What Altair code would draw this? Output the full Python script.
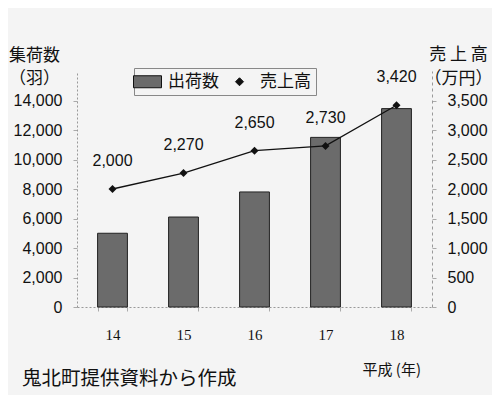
import altair as alt
import pandas as pd

years = ["14", "15", "16", "17", "18"]
shipments = [5000, 6100, 7800, 11500, 13450]
sales = [2000, 2270, 2650, 2730, 3420]
series_names = ["出荷数", "売上高"]
left_ticks = [0, 2000, 4000, 6000, 8000, 10000, 12000, 14000]
right_ticks = [0, 500, 1000, 1500, 2000, 2500, 3000, 3500]

bar_df = pd.DataFrame({"year": years, "value": shipments, "series": series_names[0]})
line_df = pd.DataFrame({"year": years, "value": sales, "series": series_names[1]})

NUM_FONT = "Liberation Sans Narrow, Liberation Sans"
JP_FONT = "Noto Sans CJK JP"

x_enc = alt.X("year:O", sort=years, scale=alt.Scale(paddingInner=0.58, paddingOuter=0.29),
              axis=alt.Axis(title="平成 (年)", labelAngle=0, labelFont="Liberation Serif",
                            labelFontSize=15, labelColor="#111", labelPadding=16,
                            ticks=True, tickBand="extent", tickSize=4, tickColor="#aaa",
                            domainColor="#999", domainDash=[2, 2],
                            titleFont=JP_FONT, titleFontSize=15, titleFontWeight="normal",
                            titleColor="#111", titleAnchor="start", titleX=285, titleY=62,
                            titleAlign="left", titleBaseline="middle"))

color_scale = alt.Scale(domain=series_names, range=["#6b6b6b", "#111111"])
shape_scale = alt.Scale(domain=series_names, range=["M-3.5,-1.5H3.5V1.5H-3.5Z", "diamond"])

legend = alt.Legend(title=None, orient="none", legendX=57, legendY=-3, direction="horizontal",
                    strokeColor="#888", padding=5, labelFont=JP_FONT, labelFontSize=17,
                    labelColor="#111", symbolSize=64, symbolStrokeColor="#111",
                    symbolStrokeWidth=1, labelOffset=12, columnPadding=12)

bars = alt.Chart(bar_df).mark_bar(stroke="#222", strokeWidth=1).encode(
    x=x_enc,
    y=alt.Y("value:Q", scale=alt.Scale(domain=[0, 16000]),
            axis=alt.Axis(values=left_ticks, format=",.0f", title=["集荷数", "（羽）"],
                          titleAngle=0, titleX=-43, titleY=-24, titleAlign="center",
                          titleBaseline="top", titleLineHeight=23, titleFont=JP_FONT,
                          titleFontSize=17, titleFontWeight="normal", titleColor="#111",
                          labelFont=NUM_FONT, labelFontSize=16, labelColor="#111",
                          labelPadding=11, tickSize=4, tickColor="#aaa",
                          domainColor="#999", domainDash=[2, 2], grid=False)),
    color=alt.Color("series:N", scale=color_scale, legend=legend),
)

right_scale = alt.Scale(domain=[0, 4000])

line = alt.Chart(line_df).mark_line(color="#111", strokeWidth=1.3).encode(
    x=x_enc,
    y=alt.Y("value:Q", scale=right_scale,
            axis=alt.Axis(orient="right", values=right_ticks, format=",.0f", title=["売 上 高", "（万円）"],
                          titleAngle=0, titleX=26, titleY=-25, titleAlign="center",
                          titleBaseline="top", titleLineHeight=24, titleFont=JP_FONT,
                          titleFontSize=17, titleFontWeight="normal", titleColor="#111",
                          labelFont=NUM_FONT, labelFontSize=16, labelColor="#111",
                          labelPadding=11, tickSize=4, tickColor="#aaa",
                          domainColor="#999", domainDash=[3, 3], grid=False)),
)

points = alt.Chart(line_df).mark_point(filled=True, size=64, opacity=1).encode(
    x=x_enc,
    y=alt.Y("value:Q", scale=right_scale, axis=None),
    color=alt.Color("series:N", scale=color_scale, legend=legend),
    shape=alt.Shape("series:N", scale=shape_scale, legend=legend),
)

labels = alt.Chart(line_df).mark_text(dy=-28, font=NUM_FONT, fontSize=16, color="#111").encode(
    x=x_enc,
    y=alt.Y("value:Q", scale=right_scale, axis=None),
    text=alt.Text("value:Q", format=",.0f"),
)

chart = alt.layer(bars, line, points, labels).resolve_scale(y="independent").properties(
    width=355, height=236,
    background="#f4f4f4",
    autosize=alt.AutoSizeParams(type="none"),
    padding={"left": 69, "top": 63, "right": 60, "bottom": 88},
    title=alt.TitleParams("鬼北町提供資料から作成", orient="bottom", anchor="start", frame="group",
                          font=JP_FONT, fontSize=19.5, fontWeight="normal", color="#111",
                          dx=-55, offset=0, dy=-7),
).configure_view(stroke=None)

chart.save("out.html", embed_options={"renderer": "svg", "actions": False})
